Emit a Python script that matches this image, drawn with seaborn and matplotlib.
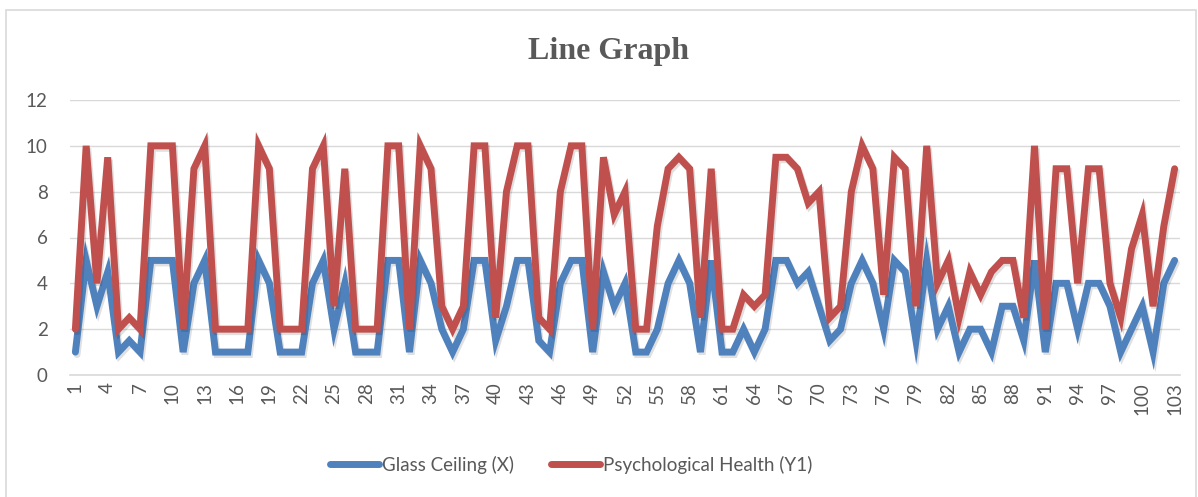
import matplotlib
matplotlib.use("Agg")
import numpy as np
import pandas as pd
import matplotlib.pyplot as plt
import matplotlib.patheffects as pe
from matplotlib.lines import Line2D
from matplotlib.patches import Rectangle
import seaborn as sns

# ---------------- data ----------------
observations = list(range(1, 104))
glass_ceiling = [1, 5, 3, 4.5, 1, 1.5, 1, 5, 5, 5,
                 1, 4, 5, 1, 1, 1, 1, 5, 4, 1,
                 1, 1, 4, 5, 2, 4, 1, 1, 1, 5,
                 5, 1, 5, 4, 2, 1, 2, 5, 5, 1.5,
                 3, 5, 5, 1.5, 1, 4, 5, 5, 1, 4.5,
                 3, 4, 1, 1, 2, 4, 5, 4, 1, 5,
                 1, 1, 2, 1, 2, 5, 5, 4, 4.5, 3,
                 1.5, 2, 4, 5, 4, 2, 5, 4.5, 1.5, 5,
                 2, 3, 1, 2, 2, 1, 3, 3, 1.5, 5,
                 1, 4, 4, 2, 4, 4, 3, 1, 2, 3,
                 1, 4, 5]
psych_health = [2, 10, 4, 9.5, 2, 2.5, 2, 10, 10, 10,
                2, 9, 10, 2, 2, 2, 2, 10, 9, 2,
                2, 2, 9, 10, 3, 9, 2, 2, 2, 10,
                10, 2, 10, 9, 3, 2, 3, 10, 10, 2.5,
                8, 10, 10, 2.5, 2, 8, 10, 10, 2, 9.5,
                7, 8, 2, 2, 6.5, 9, 9.5, 9, 2.5, 9,
                2, 2, 3.5, 3, 3.5, 9.5, 9.5, 9, 7.5, 8,
                2.5, 3, 8, 10, 9, 3.5, 9.5, 9, 3, 10,
                4, 5, 2.5, 4.5, 3.5, 4.5, 5, 5, 2.5, 10,
                2, 9, 9, 4, 9, 9, 4, 2.5, 5.5, 7,
                3, 6.5, 9]
series_names = ["Glass Ceiling (X)", "Psychological Health (Y1)"]
series_colors = ["#4F81BD", "#C0504D"]
x_tick_labels = list(range(1, 104, 3))
y_ticks = [0, 2, 4, 6, 8, 10, 12]
title = "Line Graph"

# ---------------- figure ----------------
sns.set_theme(style="white")
plt.rcParams["font.family"] = ["Lato", "DejaVu Sans"]

W, H = 1198, 497
fig = plt.figure(figsize=(W / 100, H / 100), dpi=100)
fig.patch.set_facecolor("white")

left, right, top, bottom = 70, 1180, 100, 375
ax = fig.add_axes([left / W, 1 - bottom / H, (right - left) / W, (bottom - top) / H])

df = pd.DataFrame({
    "obs": observations * 2,
    "value": glass_ceiling + psych_health,
    "series": [series_names[0]] * len(observations) + [series_names[1]] * len(observations),
})
sns.lineplot(data=df, x="obs", y="value", hue="series", hue_order=series_names,
             palette=dict(zip(series_names, series_colors)), linewidth=5.0,
             ax=ax, legend=False, sort=False, estimator=None)

for ln in ax.lines:
    ln.set_solid_joinstyle("miter")
    ln.set_solid_capstyle("round")
    ln.set_path_effects([pe.SimpleLineShadow(offset=(1.2, -1.8), alpha=0.12, shadow_color="black"),
                         pe.Normal()])

ax.set_xlim(0.5, 103.5)
ax.set_ylim(0, 12)
ax.set_yticks(y_ticks)
ax.set_xticks(x_tick_labels)
ax.set_xticklabels([str(v) for v in x_tick_labels], rotation=90)
ax.set_xlabel("")
ax.set_ylabel("")
ax.yaxis.grid(True, color="#D9D9D9", linewidth=1.0)
ax.xaxis.grid(False)
ax.set_axisbelow(True)
for s in ["left", "right", "top"]:
    ax.spines[s].set_visible(False)
ax.spines["bottom"].set_color("#D9D9D9")
ax.spines["bottom"].set_linewidth(1.2)
ax.tick_params(axis="both", length=0, labelcolor="#595959", labelsize=13.5)
ax.tick_params(axis="y", pad=16)
ax.tick_params(axis="x", pad=5)

# title
fig.text(609 / W, 1 - 51 / H, title, family=["Liberation Serif", "DejaVu Serif"],
         weight="bold", size=23, color="#595959", ha="center", va="center")

# legend
handles = [Line2D([0], [0], color=c, lw=5, solid_capstyle="round") for c in series_colors]
fig.legend(handles, series_names, loc="center", bbox_to_anchor=(571 / W, 1 - 465 / H),
           ncol=2, frameon=False, fontsize=13.5, labelcolor="#595959",
           handlelength=2.6, handletextpad=0.15, columnspacing=2.0)

# chart border
fig.patches.append(Rectangle((6 / W, -0.05), (1196 - 6) / W, (1 - 10 / H) + 0.05,
                             transform=fig.transFigure, fill=False,
                             edgecolor="#D9D9D9", linewidth=1.2))

fig.savefig("out.png", dpi=100, facecolor="white")
